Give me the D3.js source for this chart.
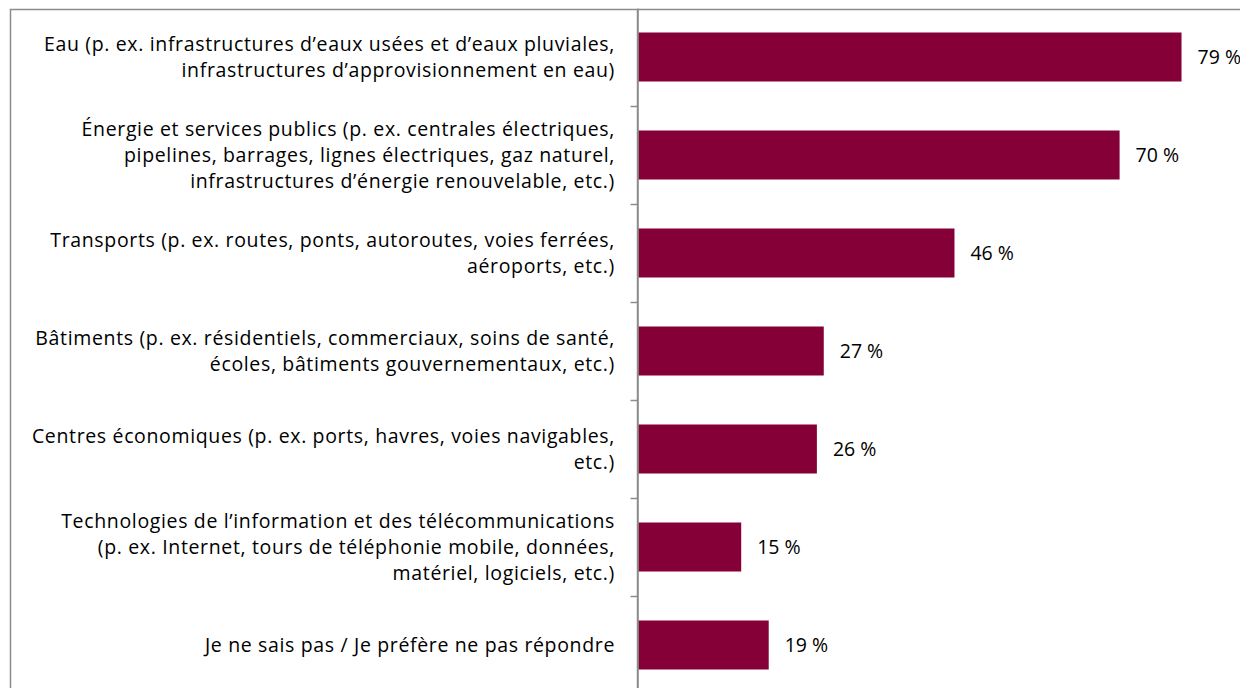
<!DOCTYPE html>
<html>
<head>
<meta charset="utf-8">
<script src="https://cdn.jsdelivr.net/npm/d3@7"></script>
<style>
  body { margin: 0; background: #fff; }
  svg { display: block; font-family: "Open Sans", sans-serif; }
</style>
</head>
<body>
<svg id="chart" width="1240" height="688"></svg>
<script>
const categories = [
    ["Eau (p. ex. infrastructures d’eaux usées et d’eaux pluviales,", "infrastructures d’approvisionnement en eau)"],
    ["Énergie et services publics (p. ex. centrales électriques,", "pipelines, barrages, lignes électriques, gaz naturel,", "infrastructures d’énergie renouvelable, etc.)"],
    ["Transports (p. ex. routes, ponts, autoroutes, voies ferrées,", "aéroports, etc.)"],
    ["Bâtiments (p. ex. résidentiels, commerciaux, soins de santé,", "écoles, bâtiments gouvernementaux, etc.)"],
    ["Centres économiques (p. ex. ports, havres, voies navigables,", "etc.)"],
    ["Technologies de l’information et des télécommunications", "(p. ex. Internet, tours de téléphonie mobile, données,", "matériel, logiciels, etc.)"],
    ["Je ne sais pas / Je préfère ne pas répondre"]
]
const values = [79, 70, 46, 27, 26, 15, 19]

const svg = d3.select("#chart")
const data = categories.map((lines, i) => ({ id: i, lines: lines, value: values[i] }))

const plot = { left: 638, top: 8, step: 98 }

const scale = {
    x: d3.scaleLinear([0, 80], [plot.left, plot.left + 80 * 6.88]),
    y: d3.scaleBand(data.map(d => d.id), [plot.top, plot.top + plot.step * data.length])
        .paddingInner(0.5)
        .paddingOuter(0.25),
    // band boundaries, for the tick marks
    edges: d3.scaleLinear([0, data.length], [plot.top, plot.top + plot.step * data.length])
}

// outer frame (cut off by the picture on right and bottom)
svg.append("rect")
    .attr("x", 10.5)
    .attr("y", 9.5)
    .attr("width", 1400)
    .attr("height", 800)
    .attr("fill", "none")
    .attr("stroke", "#8c8c8c")
    .attr("stroke-width", 1.5)

svg.selectAll("rect.bar")
    .data(data)
    .enter()
    .append("rect")
    .attr("class", "bar")
    .attr("x", scale.x(0))
    .attr("y", d => scale.y(d.id))
    .attr("width", d => scale.x(d.value) - scale.x(0))
    .attr("height", scale.y.bandwidth())
    .attr("fill", "#850036")

const axis = svg.append("g")
    .attr("transform", `translate(${plot.left - 0.5}, 0)`)
    .call(d3.axisLeft(scale.edges)
        .tickValues(d3.range(1, data.length))
        .tickFormat("")
        .tickSize(7)
        .tickSizeOuter(0))
axis.select(".domain").attr("stroke", "#8c8c8c").attr("stroke-width", 1.5)
axis.selectAll(".tick line").attr("stroke", "#8c8c8c").attr("stroke-width", 1.5)
axis.append("line")
    .attr("y1", 9).attr("y2", 700)
    .attr("stroke", "#8c8c8c").attr("stroke-width", 1.5)

const lineHeight = 26
const labels = svg.selectAll("text.cat")
    .data(data)
    .enter()
    .append("text")
    .attr("class", "cat")
    .attr("text-anchor", "end")
    .attr("font-size", 19.5)
    .attr("letter-spacing", 0.65)
    .attr("fill", "#000")
    .attr("y", d => scale.y(d.id) + scale.y.bandwidth() / 2)

labels.selectAll("tspan")
    .data(d => d.lines.map((t, j) => ({ t, j, n: d.lines.length })))
    .enter()
    .append("tspan")
    .attr("x", 615)
    .attr("dy", d => d.j === 0 ? ((-(d.n - 1) / 2) * lineHeight + 7) : lineHeight)
    .text(d => d.t)

svg.selectAll("text.val")
    .data(data)
    .enter()
    .append("text")
    .attr("class", "val")
    .attr("x", d => scale.x(d.value) + 16)
    .attr("y", d => scale.y(d.id) + scale.y.bandwidth() / 2 + 7)
    .attr("font-size", 19.5)
    .attr("fill", "#000")
    .text(d => `${d.value} %`)
</script>
</body>
</html>
